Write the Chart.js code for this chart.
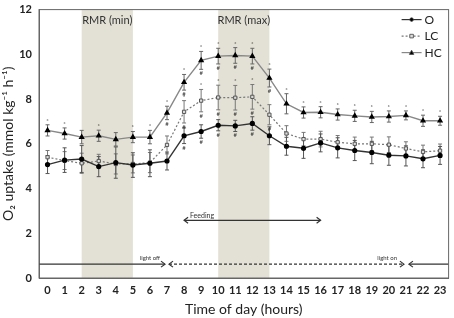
<!DOCTYPE html>
<html>
<head>
<meta charset="utf-8">
<script src="https://cdn.jsdelivr.net/npm/chart.js@4"></script>
<style>
  html, body { margin: 0; padding: 0; background: #fff; }
  #wrap { width: 454px; height: 318px; }
</style>
</head>
<body>
<div id="wrap"><canvas id="chart" width="454" height="318"></canvas></div>
<script>
const hours = ["0","1","2","3","4","5","6","7","8","9","10","11","12","13","14","15","16","17","18","19","20","21","22","23"];

const oMean  = [5.07,5.27,5.32,4.98,5.16,5.05,5.13,5.23,6.36,6.55,6.83,6.80,6.91,6.36,5.89,5.80,6.04,5.82,5.70,5.61,5.49,5.46,5.33,5.48];
const oErr   = [0.40,0.55,0.60,0.45,0.70,0.55,0.60,0.40,0.35,0.30,0.25,0.25,0.30,0.40,0.40,0.45,0.40,0.45,0.45,0.50,0.45,0.45,0.40,0.40];
const lcMean = [5.40,5.25,5.13,5.23,5.10,5.10,5.16,5.95,7.43,7.93,8.07,8.06,8.10,7.30,6.46,6.21,6.21,6.07,6.00,6.00,5.96,5.79,5.64,5.69];
const lcErr  = [0.30,0.40,0.45,0.30,0.45,0.40,0.45,0.40,0.50,0.50,0.55,0.55,0.55,0.45,0.35,0.30,0.35,0.30,0.30,0.30,0.35,0.30,0.30,0.30];
const hcMean = [6.60,6.46,6.30,6.36,6.20,6.30,6.30,7.38,8.75,9.73,9.92,9.95,9.92,8.94,7.79,7.40,7.41,7.31,7.25,7.20,7.22,7.27,7.03,7.03];
const hcErr  = [0.25,0.25,0.30,0.25,0.30,0.25,0.30,0.30,0.35,0.40,0.35,0.35,0.35,0.40,0.45,0.25,0.25,0.25,0.25,0.25,0.25,0.20,0.25,0.20];

// significance markers (hour indices)
const hcStar = [0,1,3,5,6,7,8,9,10,11,12,13,14,15,16,17,18,19,20,21,22,23];
const hcHash = [7,8,9,10,11,12,13];
const lcStar = [8,9,10,11,12];
const lcHash = [8,9,10,11,12,13];
const oHash  = [8,9,10,11,12];

const rmrBands = [[2, 5, "RMR (min)"], [10, 13, "RMR (max)"]];
const feeding = [8, 16, 2.58];
const lightY = 0.62;
const lightOff = 7, lightOn = 21;

const FONT = "Lato, 'Open Sans', sans-serif";

const overlay = {
  id: "overlay",
  beforeDatasetsDraw(chart) {
    const { ctx, chartArea: a, scales: { x, y } } = chart;
    ctx.save();
    // shaded RMR bands
    rmrBands.forEach(([s, e, label]) => {
      const x0 = x.getPixelForValue(s), x1 = x.getPixelForValue(e);
      ctx.fillStyle = "#e3e1d5";
      ctx.fillRect(x0, a.top, x1 - x0, a.bottom - a.top);
      ctx.fillStyle = "#333";
      ctx.font = "11px " + FONT;
      ctx.textAlign = "center";
      ctx.textBaseline = "middle";
      ctx.fillText(label, (x0 + x1) / 2, a.top + 11);
    });
    // error bars
    const groups = [[hcMean, hcErr, "#666"], [lcMean, lcErr, "#777"], [oMean, oErr, "#555"]];
    ctx.lineWidth = 1;
    groups.forEach(([m, err, col]) => {
      ctx.strokeStyle = col;
      m.forEach((v, i) => {
        const px = x.getPixelForValue(i);
        const top = y.getPixelForValue(v + err[i]);
        const bot = y.getPixelForValue(v - err[i]);
        ctx.beginPath();
        ctx.moveTo(px, top); ctx.lineTo(px, bot);
        ctx.moveTo(px - 2, top); ctx.lineTo(px + 2, top);
        ctx.moveTo(px - 2, bot); ctx.lineTo(px + 2, bot);
        ctx.stroke();
      });
    });
    // significance marks
    ctx.fillStyle = "#333";
    ctx.font = "6px " + FONT;
    ctx.textAlign = "center";
    const mark = (idx, m, err, sym, above) => {
      idx.forEach(i => {
        const px = x.getPixelForValue(i);
        const py = above ? y.getPixelForValue(m[i] + err[i]) - 4 : y.getPixelForValue(m[i] - err[i]) + 4;
        ctx.fillText(sym, px, py);
      });
    };
    mark(hcStar, hcMean, hcErr, "*", true);
    mark(hcHash, hcMean, hcErr, "#", false);
    mark(lcStar, lcMean, lcErr, "*", true);
    mark(lcHash, lcMean, lcErr, "#", false);
    mark(oHash, oMean, oErr, "#", false);
    ctx.restore();
  },
  afterDatasetsDraw(chart) {
    const { ctx, chartArea: a, scales: { x, y } } = chart;
    ctx.save();
    ctx.strokeStyle = "#333";
    ctx.fillStyle = "#333";
    const head = (px, py, dir) => {
      ctx.beginPath();
      ctx.moveTo(px - dir * 4, py - 3);
      ctx.lineTo(px, py);
      ctx.lineTo(px - dir * 4, py + 3);
      ctx.stroke();
    };
    // feeding arrow
    const fx0 = x.getPixelForValue(feeding[0]), fx1 = x.getPixelForValue(feeding[1]);
    const fy = y.getPixelForValue(feeding[2]);
    ctx.lineWidth = 1.2;
    ctx.beginPath(); ctx.moveTo(fx0, fy); ctx.lineTo(fx1, fy); ctx.stroke();
    head(fx0, fy, -1); head(fx1, fy, 1);
    ctx.font = "7px " + FONT;
    ctx.textAlign = "center";
    ctx.textBaseline = "bottom";
    ctx.fillText("Feeding", fx0 + 18, fy - 1);
    // light line
    const ly = y.getPixelForValue(lightY);
    const offX = x.getPixelForValue(lightOff), onX = x.getPixelForValue(lightOn);
    ctx.lineWidth = 1.2;
    ctx.beginPath(); ctx.moveTo(a.left, ly); ctx.lineTo(offX - 2, ly); ctx.stroke();
    head(offX - 2, ly, 1);
    ctx.beginPath(); ctx.moveTo(onX + 3, ly); ctx.lineTo(a.right, ly); ctx.stroke();
    head(onX + 3, ly, -1);
    ctx.setLineDash([3, 2]);
    ctx.beginPath(); ctx.moveTo(offX + 2, ly); ctx.lineTo(onX - 2, ly); ctx.stroke();
    ctx.setLineDash([]);
    head(offX + 2, ly, -1); head(onX - 2, ly, 1);
    ctx.font = "6px " + FONT;
    ctx.fillText("light off", x.getPixelForValue(6), ly - 3);
    ctx.fillText("light on", x.getPixelForValue(19.9), ly - 3);
    // frame
    ctx.strokeStyle = "#666";
    ctx.lineWidth = 1;
    ctx.strokeRect(a.left, a.top, a.right - a.left, a.bottom - a.top);
    // legend
    const items = [
      ["O", "circle", "#333", [], "#000"],
      ["LC", "rect", "#777", [2, 2], "#ddd"],
      ["HC", "triangle", "#888", [], "#000"]
    ];
    items.forEach(([lab, shape, col, dash, fill], k) => {
      const ly2 = a.top + 10 + k * 16.5;
      const lx = a.right - 47;
      ctx.strokeStyle = col;
      ctx.lineWidth = 1.2;
      ctx.setLineDash(dash);
      ctx.beginPath(); ctx.moveTo(lx, ly2); ctx.lineTo(lx + 20, ly2); ctx.stroke();
      ctx.setLineDash([]);
      ctx.fillStyle = fill;
      ctx.strokeStyle = "#444";
      ctx.lineWidth = 0.8;
      const cx = lx + 10;
      ctx.beginPath();
      if (shape === "circle") ctx.arc(cx, ly2, 1.8, 0, Math.PI * 2);
      else if (shape === "rect") ctx.rect(cx - 1.8, ly2 - 1.8, 3.6, 3.6);
      else { ctx.moveTo(cx, ly2 - 2.4); ctx.lineTo(cx + 2.2, ly2 + 1.8); ctx.lineTo(cx - 2.2, ly2 + 1.8); ctx.closePath(); }
      ctx.fill(); ctx.stroke();
      ctx.fillStyle = "#222";
      ctx.font = "12px " + FONT;
      ctx.textAlign = "left";
      ctx.textBaseline = "middle";
      ctx.fillText(lab, lx + 23, ly2 + 0.5);
    });
    ctx.restore();
  }
};

new Chart(document.getElementById("chart"), {
  type: "line",
  data: {
    labels: hours,
    datasets: [
      {
        label: "O", data: oMean, borderColor: "#333", borderWidth: 1.4,
        pointStyle: "circle", pointRadius: 1.9, pointBackgroundColor: "#000", pointBorderColor: "#000"
      },
      {
        label: "LC", data: lcMean, borderColor: "#777", borderWidth: 1.2, borderDash: [2, 2],
        pointStyle: "rect", pointRadius: 2.3, pointBackgroundColor: "#ddd", pointBorderColor: "#555", pointBorderWidth: 1
      },
      {
        label: "HC", data: hcMean, borderColor: "#888", borderWidth: 1.4,
        pointStyle: "triangle", pointRadius: 2.2, pointBackgroundColor: "#000", pointBorderColor: "#000"
      }
    ]
  },
  options: {
    responsive: false,
    animation: false,
    layout: { padding: { top: 5, right: 2, left: 0, bottom: 0 } },
    plugins: { legend: { display: false }, tooltip: { enabled: false } },
    scales: {
      x: {
        type: "category",
        offset: true,
        grid: { display: false, drawTicks: true, offset: true, tickLength: 4, color: "#666" },
        border: { color: "#666" },
        ticks: { color: "#222", font: { family: FONT, size: 11, weight: "bold" }, padding: 2, maxRotation: 0, autoSkip: false },
        title: { display: true, text: "Time of day (hours)", color: "#222", font: { family: FONT, size: 14 }, padding: { top: 0, bottom: 0 } },
        afterFit(s) { s.height = 40; }
      },
      y: {
        min: 0, max: 12,
        ticks: { stepSize: 2, color: "#222", font: { family: FONT, size: 11, weight: "bold" }, padding: 3 },
        grid: { display: false, drawTicks: true, tickLength: 4, color: "#666" },
        border: { color: "#666" },
        title: { display: true, text: "O\u2082 uptake (mmol kg\u207B\u00B9 h\u207B\u00B9)", color: "#222", font: { family: FONT, size: 14 }, padding: { top: 0, bottom: 2 } },
        afterFit(s) { s.width = 39; }
      }
    }
  },
  plugins: [overlay]
});
</script>
</body>
</html>
